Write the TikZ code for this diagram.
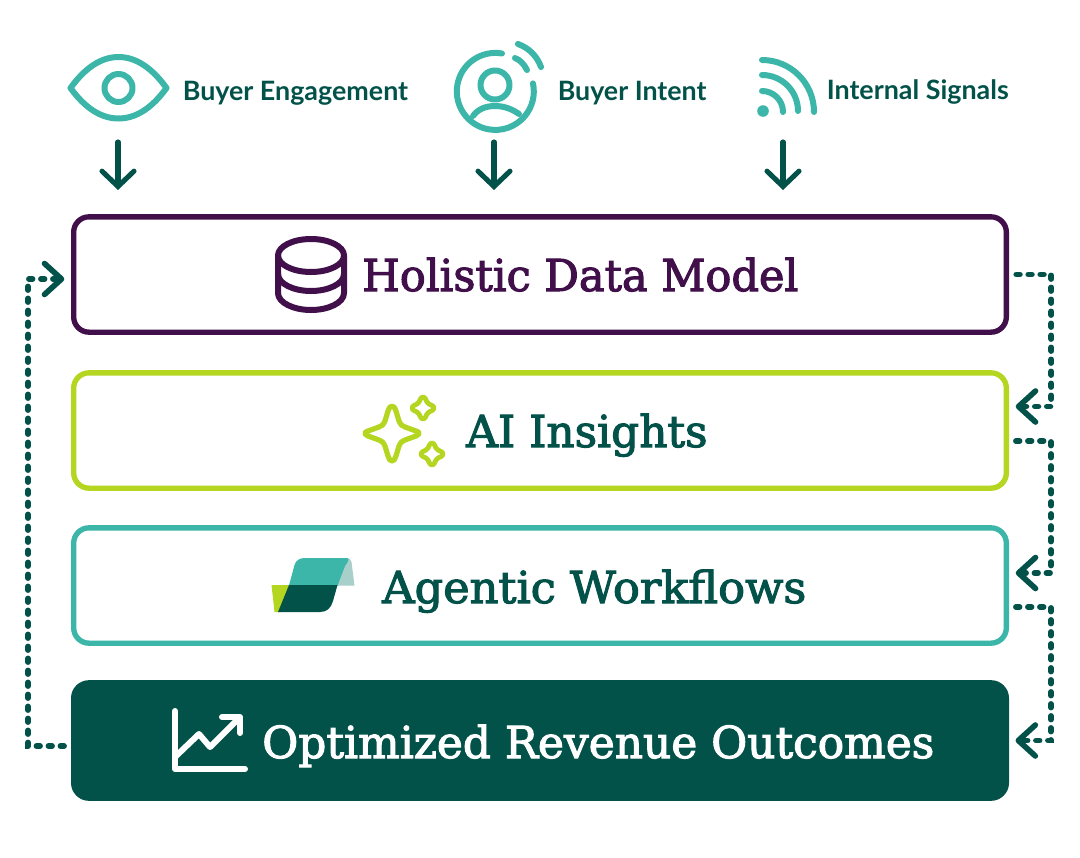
\documentclass[tikz,border=0pt]{standalone}
\usepackage{fontspec}
\usepackage{graphicx}
\usetikzlibrary{arrows.meta}
\setmainfont{Lato}
\newfontfamily\headfont{DejaVu Serif}[FakeBold=2.4]
\definecolor{teal}{HTML}{3BB6A8}
\definecolor{deep}{HTML}{02524A}
\definecolor{plum}{HTML}{41104A}
\definecolor{lime}{HTML}{B5D621}
\definecolor{pale}{HTML}{A9CFCA}
\newcommand{\fitw}[2]{\resizebox{#1}{\height}{#2}}
\tikzset{
  x=0.75pt,y=-0.75pt,
  band/.style={rectangle,rounded corners=11.5pt,line width=4pt,minimum width=699.5pt,minimum height=86.5pt,inner sep=0pt,fill=white},
  title/.style={anchor=base west,inner sep=0pt,font=\headfont\fontsize{33}{38}\selectfont},
  label/.style={anchor=base west,inner sep=0pt,text=deep,font=\bfseries\fontsize{20}{24}\selectfont},
  downarrow/.style={draw=deep,line width=3.8pt,line cap=round,-{Straight Barb[length=11.5pt,width=24pt,line cap=round,line join=miter,line width=3.8pt]}},
  feedback/.style={draw=deep,line width=4.4pt,line cap=round,dash pattern=on 2.6pt off 6.4pt},
  feedtip/.style={draw=deep,line width=4.2pt,line cap=round,line join=round},
  icon/.style={line width=4.5pt,line cap=round,line join=round},
}
\begin{document}
\begin{tikzpicture}
\useasboundingbox (0,0) rectangle (1080,857);
\fill[white] (0,0) rectangle (1080,857);

% bands
\node[band,draw=plum] (hdm) at (540,274.5) {};
\node[band,draw=lime] (ai) at (540,430.5) {};
\node[band,draw=teal] (wf) at (540,585.5) {};
\node[band,draw=deep,fill=deep] (out) at (540,740.5) {};

% titles
\node[title,text=plum] (thdm) at (362,291) {\fitw{327pt}{Holistic Data Model}};
\node[title,text=deep] (tai) at (466,447) {\fitw{181pt}{AI Insights}};
\node[title,text=deep] (twf) at (382,603) {\fitw{318pt}{Agentic Workflows}};
\node[title,text=white] (tout) at (262,758) {\fitw{504pt}{Optimized Revenue Outcomes}};

% top labels
\node[label] (lbe) at (182.5,100) {\fitw{169pt}{Buyer Engagement}};
\node[label] (lbi) at (557.5,100) {\fitw{111.5pt}{Buyer Intent}};
\node[label] (lis) at (826.5,99) {\fitw{136.5pt}{Internal Signals}};

% eye icon
\draw[icon,draw=teal] (70.5,88) .. controls (85,68) and (101,57) .. (118.5,57) .. controls (136,57) and (152,68) .. (166.5,88)
   .. controls (152,108) and (136,118.5) .. (118.5,118.5) .. controls (101,118.5) and (85,108) .. cycle;
\draw[icon,draw=teal] (118.5,88) circle[radius=14];

% person icon
\draw[icon,draw=teal] (502,53.5) arc[start angle=-80,end angle=-372,radius=38.5];
\draw[icon,draw=teal] (495,85) circle[radius=14.5];
\draw[icon,draw=teal] (473,116) .. controls (478,109) and (486,106) .. (495,106) .. controls (504,106) and (512,109) .. (519,114);
\draw[icon,draw=teal] (515,58) .. controls (520,60) and (524,64) .. (527,70);
\draw[icon,draw=teal] (518,44) .. controls (529,48) and (537,56) .. (541,67);

% wifi icon
\fill[teal] (763,111) circle[radius=5.8];
\draw[icon,draw=teal] (762,91) arc[start angle=-90,end angle=0,radius=21];
\draw[icon,draw=teal] (762,75) arc[start angle=-90,end angle=0,radius=36];
\draw[icon,draw=teal] (762,60) arc[start angle=-90,end angle=0,radius=52];

% database icon
\draw[icon,draw=plum] (311,255.5) ellipse[x radius=33,y radius=16.5];
\draw[icon,draw=plum] (278,255.5) -- (278,293) .. controls (278,303) and (294,310) .. (311,310) .. controls (328,310) and (344,303) .. (344,293) -- (344,255.5);
\draw[icon,draw=plum] (278,274) .. controls (278,284) and (294,291) .. (311,291) .. controls (328,291) and (344,284) .. (344,274);

% sparkles
\draw[icon,draw=lime,line width=3.9pt] (392,406) .. controls (394,406) and (395,408) .. (396,411) -- (399,421) .. controls (401,425) and (402,426) .. (405,427) -- (416,431) .. controls (420,432) and (420,434) .. (416,436)
  -- (405,440) .. controls (402,441) and (401,442) .. (399,446) -- (396,456) .. controls (395,459) and (394,461) .. (392,461)
  .. controls (390,461) and (389,459) .. (388,456) -- (385,446) .. controls (383,442) and (382,441) .. (379,440) -- (368,436)
  .. controls (364,434) and (364,432) .. (368,431) -- (379,427) .. controls (382,426) and (383,425) .. (385,421) -- (388,411) .. controls (389,408) and (390,406) .. cycle;
\foreach \cx/\cy in {423/408,432/454}{
  \draw[icon,draw=lime,line width=3.6pt] (\cx,\cy-11) .. controls (\cx+3,\cy-11) and (\cx+3,\cy-6) .. (\cx+5,\cy-5) .. controls (\cx+6,\cy-3) and (\cx+11,\cy-3) .. (\cx+11,\cy)
    .. controls (\cx+11,\cy+3) and (\cx+6,\cy+3) .. (\cx+5,\cy+5) .. controls (\cx+3,\cy+6) and (\cx+3,\cy+11) .. (\cx,\cy+11)
    .. controls (\cx-3,\cy+11) and (\cx-3,\cy+6) .. (\cx-5,\cy+5) .. controls (\cx-6,\cy+3) and (\cx-11,\cy+3) .. (\cx-11,\cy)
    .. controls (\cx-11,\cy-3) and (\cx-6,\cy-3) .. (\cx-5,\cy-5) .. controls (\cx-3,\cy-6) and (\cx-3,\cy-11) .. cycle;
}

% workflow logo
\fill[pale] (346,558) .. controls (349,558) and (351,559) .. (351.5,562) -- (354.5,585.5) -- (337,585.5) -- cycle;
\fill[lime] (271.5,585) -- (290,585) -- (281,612) -- (274.5,612) -- cycle;
\fill[teal] (289,585.5) -- (294.5,565) .. controls (296,560) and (300,558) .. (305,558) -- (346,558) .. controls (349,558) and (350,559) .. (345,566) -- (337.5,585.5) -- cycle;
\fill[deep] (289,585) -- (337.5,585) -- (333,601) .. controls (331,608) and (327,612) .. (320,612) -- (278,612) -- cycle;

% chart icon
\draw[icon,draw=white] (175,711) -- (175,769) -- (245,769);
\draw[icon,draw=white] (175,757) -- (199,734) -- (210,747) -- (238,719);
\draw[icon,draw=white] (222,717) -- (240,717) -- (240,733);

% input arrows
\coordinate (sa) at (118,142); \coordinate (ea) at (118,190);
\coordinate (sb) at (494,142); \coordinate (eb) at (494,190);
\coordinate (sc) at (783,142); \coordinate (ec) at (783,190);
\draw[downarrow] (sa) -- (ea);
\draw[downarrow] (sb) -- (eb);
\draw[downarrow] (sc) -- (ec);

% feedback connectors
\coordinate (ta) at ([shift={(9.5,-24)}]ai.east);
\coordinate (tb) at ([shift={(9.5,-12.5)}]wf.east);
\coordinate (tc) at ([xshift=7pt]out.east);
\coordinate (td) at ([shift={(-9.5,4.5)}]hdm.west);
\draw[feedback] ([xshift=5.5pt]hdm.east) -- ++(35,0) |- (ta);
\draw[feedback] ([shift={(7,10.5)}]ai.east) -- ++(35,0) |- (tb);
\draw[feedback] ([shift={(7,21.5)}]wf.east) -- ++(35,0) |- (tc);
\draw[feedback] ([shift={(-7,5.5)}]out.west) -- ++(-36,0) |- (td);
\foreach \t in {ta,tb,tc}{\draw[feedtip] ([shift={(17,-15.5)}]\t) -- (\t) -- ([shift={(17,15.5)}]\t);}
\draw[feedtip] ([shift={(-17,-15.5)}]td) -- (td) -- ([shift={(-17,15.5)}]td);
\end{tikzpicture}
\end{document}
